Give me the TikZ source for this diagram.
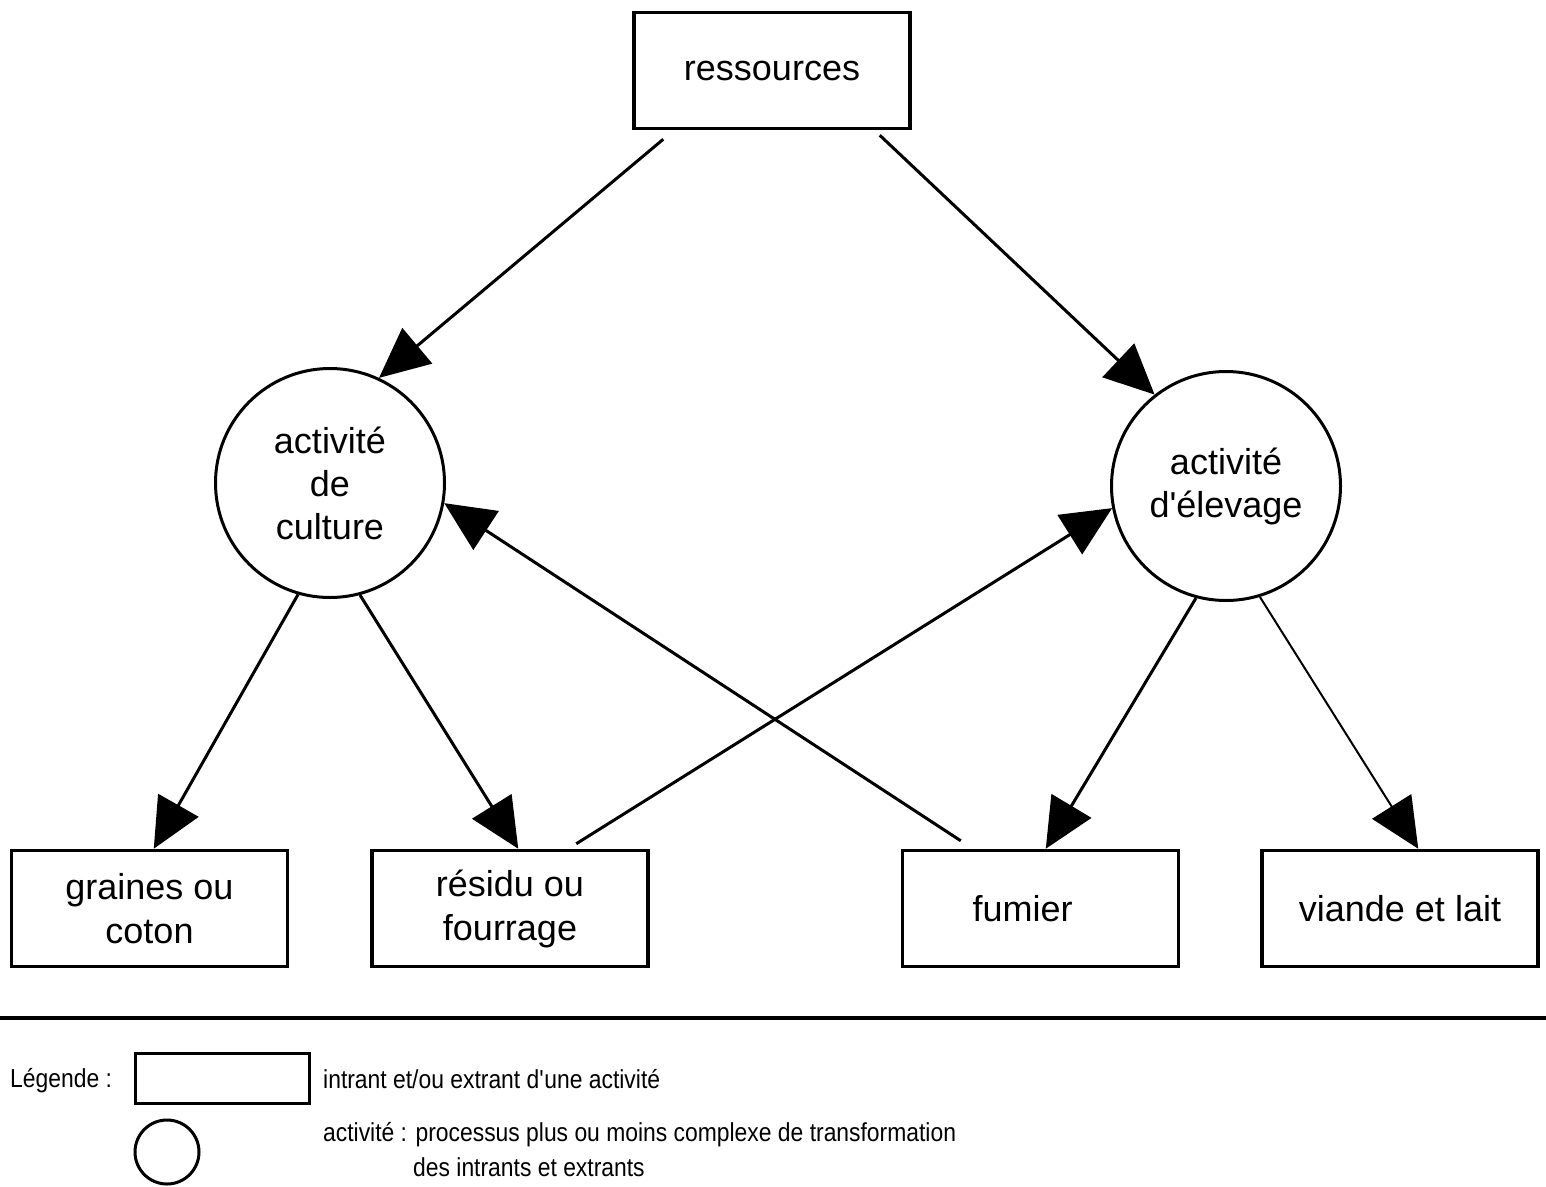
\documentclass[tikz,border=0pt]{standalone}
\usepackage{fontspec}
\setmainfont{Liberation Sans}
\newfontfamily\legendfont[FakeStretch=0.88]{Liberation Sans}
\usetikzlibrary{arrows.meta,calc,shapes.geometric}

\begin{document}
\begin{tikzpicture}[x=1pt,y=-1pt,
  box/.style={draw,line width=3.5pt,minimum width=276pt,minimum height=116pt,
    inner sep=0pt,align=center,font=\fontsize{36}{44}\selectfont},
  activity/.style={draw,circle,line width=3pt,minimum size=229pt,inner sep=0pt,
    align=center,font=\fontsize{36}{43}\selectfont},
  flow/.style={line width=3pt,-{Triangle[length=50pt,width=46pt]}},
  thinflow/.style={flow,line width=2pt},
  legendtext/.style={anchor=west,inner sep=0pt,font=\legendfont\fontsize{26}{32}\selectfont},
]
\useasboundingbox (0,0) rectangle (1546,1186);

% inputs / outputs
\node[box] (res) at (772,70.5) {\raisebox{-4pt}{ressources}};
\node[box] (gra) at (149.5,908.5) {\raisebox{-5pt}{graines ou}\\\raisebox{-5pt}{coton}};
\node[box] (resid) at (510,908.5) {\raisebox{-7pt}{résidu ou}\\\raisebox{-7pt}{fourrage}};
\node[box] (fum) at (1040.5,908.5) {\raisebox{-3pt}{fumier}\hspace*{36pt}};
\node[box] (via) at (1400,908.5) {\raisebox{-3pt}{viande et lait}};

% activities
\node[activity] (cul) at (330,483) {activité\\de\\culture};
\node[activity] (elv) at (1226,486) {activité\\d\textquotesingle élevage};

% flows
\draw[flow] ($(res.south west)+(31,9)$) -- (cul.65);
\draw[flow] ($(res.south east)+(-32,5)$) -- (elv.128);
\draw[flow] (cul.-106) -- ($(gra.north west)+(144,0)$);
\draw[flow] (cul.-75) -- ($(resid.north west)+(148,0)$);
\draw[flow] (elv.-105) -- ($(fum.north west)+(145,0)$);
\draw[thinflow] (elv.-73) -- ($(via.north west)+(158,0)$);
\draw[flow] ($(resid.north west)+(206,-5)$) -- (elv.-169);
\draw[flow] ($(fum.north west)+(60,-8)$) -- (cul.-10);

% legend
\coordinate (sepL) at (0,1018);
\coordinate (sepR) at (1546,1018);
\draw[line width=3.5pt] (sepL) -- (sepR);
\node[legendtext] (leg) at (10,1081) {Légende :};
\node[draw,line width=3pt,minimum width=174pt,minimum height=50pt,inner sep=0pt]
  (legbox) at (222,1078) {};
\node[draw,ellipse,line width=3pt,minimum width=64pt,minimum height=64pt,inner sep=0pt]
  (legcirc) at (167,1152) {};
\node[legendtext] (legboxtext) at (323,1079) {intrant et/ou extrant d\textquotesingle une activité};
\node[legendtext] (legcirctext) at (323,1135) {activité : processus plus ou moins complexe de transformation};
\node[legendtext] (legcirctext2) at (413,1167) {des intrants et extrants};
\end{tikzpicture}
\end{document}
